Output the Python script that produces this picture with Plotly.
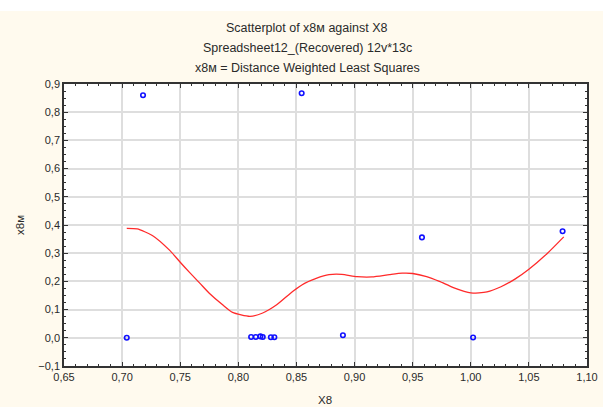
import plotly.graph_objects as go

# Observed cases
x8 = [0.704, 0.718, 0.811, 0.815, 0.819, 0.821, 0.828, 0.831, 0.8545, 0.890, 0.958, 1.002, 1.079]
x8m = [0.000, 0.860, 0.003, 0.003, 0.005, 0.003, 0.002, 0.002, 0.867, 0.009, 0.356, 0.001, 0.378]

# Distance weighted least squares fit
fit_x = [0.704, 0.713, 0.726, 0.741, 0.750, 0.758, 0.767, 0.775, 0.787, 0.795, 0.810,
         0.821, 0.833, 0.847, 0.857, 0.867, 0.878, 0.889, 0.902, 0.915, 0.930, 0.941,
         0.950, 0.962, 0.973, 0.985, 1.000, 1.014, 1.026, 1.038, 1.050, 1.066, 1.080]
fit_y = [0.388, 0.386, 0.363, 0.310, 0.268, 0.232, 0.193, 0.158, 0.115, 0.090, 0.076,
         0.088, 0.117, 0.165, 0.193, 0.211, 0.224, 0.225, 0.217, 0.216, 0.224, 0.229,
         0.228, 0.217, 0.200, 0.178, 0.159, 0.163, 0.181, 0.208, 0.243, 0.300, 0.358]

x_ticks = [0.65, 0.70, 0.75, 0.80, 0.85, 0.90, 0.95, 1.00, 1.05, 1.10]
y_ticks = [-0.1, 0.0, 0.1, 0.2, 0.3, 0.4, 0.5, 0.6, 0.7, 0.8, 0.9]

FONT = "Liberation Sans, Arial, sans-serif"
TXT = "#2a2a2a"

# plot area in pixels
L, R, T, B = 64, 587, 84, 366
W, H = R - L, B - T

fig = go.Figure()
fig.add_trace(go.Scatter(
    x=fit_x, y=fit_y, mode="lines", line=dict(color="#ff2a2a", width=1.3, shape="spline", smoothing=0.6),
    hoverinfo="skip", showlegend=False))
fig.add_trace(go.Scatter(
    x=x8, y=x8m, mode="markers",
    marker=dict(symbol="circle-open", size=4.5, color="#1010ff", line=dict(width=1.6, color="#1010ff")),
    showlegend=False))

axis_common = dict(
    showline=True, linecolor="#333333", linewidth=1.5, mirror="allticks",
    ticks="inside", ticklen=4, tickwidth=1.2, tickcolor="#333333",
    showgrid=True, gridcolor="#dedede", gridwidth=1.6, zeroline=False,
    tickfont=dict(family=FONT, size=11, color=TXT), automargin=False,
)

def px_to_paper(px, py):
    return (px - L) / W, (B - py) / H

annotations = []
for t, yy in [("Scatterplot of x8м against X8", 28),
              ("Spreadsheet12_(Recovered) 12v*13c", 48),
              ("x8м = Distance Weighted Least Squares", 68)]:
    ax, ay = px_to_paper(307, yy)
    annotations.append(dict(text=t, xref="paper", yref="paper", x=ax, y=ay,
                            showarrow=False, xanchor="center", yanchor="middle",
                            font=dict(family=FONT, size=12.5, color=TXT)))
ax, ay = px_to_paper(325, 400)
annotations.append(dict(text="X8", xref="paper", yref="paper", x=ax, y=ay, showarrow=False,
                        xanchor="center", yanchor="middle", font=dict(family=FONT, size=11.5, color=TXT)))
ax, ay = px_to_paper(20, 225)
annotations.append(dict(text="x8м", xref="paper", yref="paper", x=ax, y=ay, showarrow=False, textangle=-90,
                        xanchor="center", yanchor="middle", font=dict(family=FONT, size=11.5, color=TXT)))

top_white = px_to_paper(0, 11)[1]

fig.update_layout(
    width=603, height=407,
    margin=dict(l=L, r=603 - R, t=T, b=407 - B),
    paper_bgcolor="#fffaee", plot_bgcolor="#ffffff",
    separators=",.",
    font=dict(family=FONT, size=11, color=TXT),
    xaxis=dict(
        range=[0.65, 1.10], tickvals=x_ticks, tickformat=".2f",
        minor=dict(dtick=0.01, tick0=0.65, ticks="inside", ticklen=2.5, tickcolor="#333333", showgrid=False),
        **axis_common),
    yaxis=dict(
        range=[-0.1, 0.9], tickvals=y_ticks, tickformat=".1f",
        minor=dict(dtick=0.025, tick0=-0.1, ticks="inside", ticklen=2.5, tickcolor="#333333", showgrid=False),
        **axis_common),
    shapes=[dict(type="rect", xref="paper", yref="paper", x0=-0.2, x1=1.2,
                 y0=top_white, y1=top_white + 0.2, fillcolor="#ffffff", line=dict(width=0), layer="below")],
    annotations=annotations,
)

fig.write_html("out.html")
